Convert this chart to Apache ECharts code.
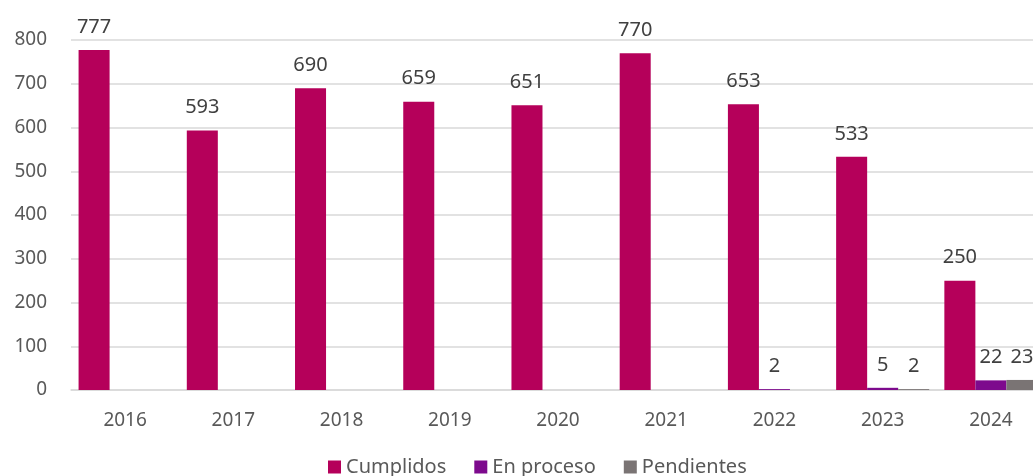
<!DOCTYPE html>
<html>
<head>
<meta charset="utf-8">
<script src="https://cdn.jsdelivr.net/npm/echarts@6/dist/echarts.min.js"></script>
<style>
  html, body { margin: 0; padding: 0; overflow: hidden; background: #fff; }
  #chart { width: 1046px; height: 476px; }
</style>
</head>
<body>
<div id="chart"></div>
<script>
var years = ['2016', '2017', '2018', '2019', '2020', '2021', '2022', '2023', '2024'];
var cumplidos = [777, 593, 690, 659, 651, 770, 653, 533, 250];
var enProceso = [null, null, null, null, null, null, 2, 5, 22];
var pendientes = [null, null, null, null, null, null, null, 2, 23];

var font = '"Noto Sans", "Open Sans", sans-serif';

var label = {
  show: true,
  position: 'top',
  distance: 13,
  color: '#404040',
  fontSize: 20,
  fontFamily: font
};

var myChart = echarts.init(document.getElementById('chart'));
myChart.setOption({
  animation: false,
  textStyle: { fontFamily: font },
  grid: {
    left: 71,
    right: 1,
    top: 40,
    bottom: 86
  },
  legend: {
    top: 452,
    left: 323,
    itemWidth: 13,
    itemHeight: 13,
    itemGap: 28,
    icon: 'rect',
    textStyle: { color: '#595959', fontSize: 20, fontFamily: font },
    data: ['Cumplidos', 'En proceso', 'Pendientes']
  },
  xAxis: {
    type: 'category',
    data: years,
    axisLine: { lineStyle: { color: '#d9d9d9', width: 1.5 } },
    axisTick: { show: false },
    axisLabel: { color: '#595959', fontSize: 19, margin: 21, fontFamily: font }
  },
  yAxis: {
    type: 'value',
    min: 0,
    max: 800,
    interval: 100,
    axisLine: { show: false },
    axisTick: { show: false },
    splitLine: { lineStyle: { color: '#d9d9d9', width: 1.5 } },
    axisLabel: { color: '#595959', fontSize: 19, margin: 24, fontFamily: font }
  },
  series: [
    {
      name: 'Cumplidos',
      type: 'bar',
      barGap: '0%',
      barCategoryGap: '14%',
      itemStyle: { color: '#b5005a' },
      label: label,
      data: cumplidos
    },
    {
      name: 'En proceso',
      type: 'bar',
      itemStyle: { color: '#7d0a8d' },
      label: label,
      data: enProceso
    },
    {
      name: 'Pendientes',
      type: 'bar',
      itemStyle: { color: '#7a7474' },
      label: label,
      data: pendientes
    }
  ]
});
</script>
</body>
</html>
